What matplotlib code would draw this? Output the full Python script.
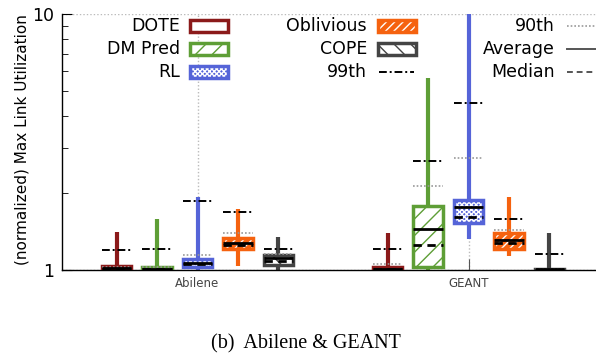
import matplotlib
matplotlib.use("Agg")
import matplotlib.pyplot as plt
from matplotlib.patches import Rectangle
from matplotlib.lines import Line2D
from matplotlib.ticker import LogLocator, NullFormatter, FixedLocator, FixedFormatter

# ---------------- data ----------------
methods = ["DOTE", "DM Pred", "RL", "Oblivious", "COPE"]
topologies = ["Abilene", "GEANT"]

# per topology: values for each method in `methods` order
whisker_low = {"Abilene": [1.0, 1.0, 1.0, 1.04, 1.0],
               "GEANT":   [1.0, 1.0, 1.32, 1.13, 1.0]}
q1 = {"Abilene": [1.0, 1.0, 1.03, 1.21, 1.045],
      "GEANT":   [1.0, 1.03, 1.52, 1.205, 1.0]}
q3 = {"Abilene": [1.035, 1.03, 1.10, 1.33, 1.145],
      "GEANT":   [1.03, 1.78, 1.88, 1.40, 1.012]}
whisker_high = {"Abilene": [1.41, 1.58, 1.92, 1.73, 1.34],
                "GEANT":   [1.40, 5.6, 12.0, 1.93, 1.40]}
mean = {"Abilene": [1.015, 1.012, 1.068, 1.275, 1.11],
        "GEANT":   [1.01, 1.44, 1.76, 1.31, 1.005]}
median = {"Abilene": [1.01, 1.008, 1.06, 1.25, 1.085],
          "GEANT":   [1.005, 1.25, 1.61, 1.27, 1.003]}
p90 = {"Abilene": [1.03, 1.03, 1.14, 1.40, 1.155],
       "GEANT":   [1.06, 2.12, 2.75, 1.43, 1.012]}
p99 = {"Abilene": [1.20, 1.21, 1.86, 1.69, 1.21],
       "GEANT":   [1.205, 2.67, 4.50, 1.58, 1.15]}

y_ticks = [1, 10]
y_tick_labels = ["1", "10"]
y_label = "(normalized) Max Link Utilization"
caption = "(b)  Abilene & GEANT"

# ---------------- style ----------------
colors = ["#8B1A1A", "#5E9E36", "#5564D8", "#F5620F", "#444444"]
faces = ["white", "white", "#5564D8", "#F5620F", "white"]
hatches = [None, "//", "xxxxxxx", "////", "\\\\"]
hatch_cols = ["white", "#5E9E36", "white", "white", "#444444"]

W, H = 596, 356
fig = plt.figure(figsize=(W / 100, H / 100), dpi=100)
plt.rcParams["hatch.linewidth"] = 1.0

def fx(x):
    return x / W

def fy(y):
    return 1 - y / H

ax = fig.add_axes([fx(62), fy(270), 542 / W, 256 / H])
ax.set_yscale("log")
ax.set_ylim(1, 10)
ax.set_xlim(-0.5, 1.5)

offset = 0.1494
bw = 0.11

for gi, topo in enumerate(topologies):
    for mi, m in enumerate(methods):
        x = gi + (mi - 2) * offset
        c = colors[mi]
        ax.vlines(x, whisker_low[topo][mi], whisker_high[topo][mi], color=c, lw=3, zorder=2)
        ax.bar(x, q3[topo][mi] - q1[topo][mi], bottom=q1[topo][mi], width=bw,
               color=faces[mi], edgecolor=hatch_cols[mi], hatch=hatches[mi], lw=0, zorder=3)
        ax.bar(x, q3[topo][mi] - q1[topo][mi], bottom=q1[topo][mi], width=bw,
               fill=False, edgecolor=c, lw=2.5, zorder=4)
        lo, hi = x - bw / 2, x + bw / 2
        ax.hlines(p90[topo][mi], lo, hi, color="#999999", lw=1.2, linestyles=(0, (1, 1.2)), zorder=5)
        ax.hlines(p99[topo][mi], lo, hi, color="black", lw=1.4, linestyles=(0, (4, 1.5, 1, 1.5)), zorder=5)
        ax.hlines(mean[topo][mi], lo, hi, color="black", lw=2, zorder=5)
        ax.hlines(median[topo][mi], lo, hi, color="black", lw=2, linestyles=(0, (3, 2)), zorder=5)

# axes styling
for s in ["top", "right"]:
    ax.spines[s].set_visible(False)
ax.spines["left"].set_linewidth(1.0)
ax.spines["bottom"].set_linewidth(1.0)
ax.yaxis.set_major_locator(FixedLocator(y_ticks))
ax.yaxis.set_major_formatter(FixedFormatter(y_tick_labels))
ax.yaxis.set_minor_locator(LogLocator(base=10, subs=range(2, 10)))
ax.yaxis.set_minor_formatter(NullFormatter())
ax.tick_params(axis="y", which="major", direction="in", length=7, labelsize=12.5, pad=6)
ax.tick_params(axis="y", which="minor", direction="in", length=4)
ax.set_xticks([0, 1])
ax.set_xticklabels(topologies)
ax.tick_params(axis="x", direction="in", length=8, color="#555555", labelsize=8.5,
               labelcolor="#444444", pad=5)
ax.yaxis.grid(True, which="major", ls=(0, (1, 1.5)), color="#bbbbbb", lw=1)
ax.xaxis.grid(True, ls=(0, (1, 1.5)), color="#bbbbbb", lw=1)
ax.set_axisbelow(True)

fig.text(fx(22), fy(140), y_label, rotation=90, ha="center", va="center", fontsize=11)
fig.text(fx(306), fy(344), caption, ha="center", va="center", fontsize=14.5,
         family="Liberation Serif")

# ---------------- legend (manual, gnuplot style) ----------------
rows = [26, 49, 72]
lfs = 12.5
col1 = [(methods[0], 0), (methods[1], 1), (methods[2], 2)]
col2 = [(methods[3], 3), (methods[4], 4)]

def swatch(xl, y, mi):
    w, h = 38, 12
    r1 = Rectangle((fx(xl), fy(y + h / 2)), w / W, h / H, transform=fig.transFigure,
                   facecolor=faces[mi], edgecolor=hatch_cols[mi], hatch=hatches[mi], lw=0)
    r2 = Rectangle((fx(xl), fy(y + h / 2)), w / W, h / H, transform=fig.transFigure,
                   fill=False, edgecolor=colors[mi], lw=2.5)
    fig.add_artist(r1)
    fig.add_artist(r2)

for (name, mi), y in zip(col1, rows):
    fig.text(fx(180), fy(y), name, ha="right", va="center", fontsize=lfs)
    swatch(190, y, mi)
for (name, mi), y in zip(col2, rows):
    fig.text(fx(367), fy(y), name, ha="right", va="center", fontsize=lfs)
    swatch(378, y, mi)

fig.text(fx(367), fy(rows[2]), "99th", ha="right", va="center", fontsize=lfs)
fig.add_artist(Line2D([fx(379), fx(414)], [fy(rows[2]), fy(rows[2])], transform=fig.transFigure,
                      color="black", lw=1.4, ls=(0, (4, 1.5, 1, 1.5))))

leg3 = [("90th", "#999999", (0, (1, 1.2)), 1.2), ("Average", "#555555", "-", 1.4),
        ("Median", "#555555", (0, (3, 2)), 1.4)]
for (name, c, ls, lw), y in zip(leg3, rows):
    fig.text(fx(555), fy(y), name, ha="right", va="center", fontsize=lfs)
    fig.add_artist(Line2D([fx(567), fx(600)], [fy(y), fy(y)], transform=fig.transFigure,
                          color=c, lw=lw, ls=ls))

fig.savefig("out.png", dpi=100)
